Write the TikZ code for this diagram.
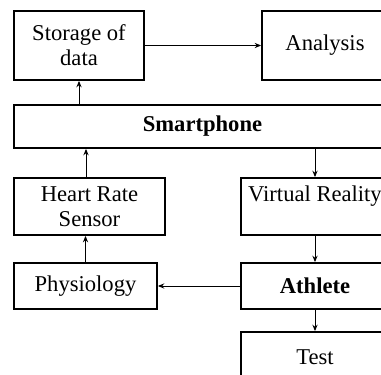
\documentclass[tikz,border=0pt]{standalone}
\usepackage{fontspec}
\setmainfont{Liberation Serif}
\usetikzlibrary{arrows.meta}
\begin{document}
\begin{tikzpicture}[x=0.5pt,y=-0.5pt,
  box/.style={draw,line width=0.9pt,inner sep=0pt,align=center,font=\fontsize{11.3}{12.5}\selectfont},
  arr/.style={line width=0.5pt,-{Stealth[length=3.2pt,width=2.6pt]}}]
\useasboundingbox (0,0) rectangle (381,375);
\clip (0,0) rectangle (381,375);
\node[box,minimum width=65pt,minimum height=34.5pt] (stor) at (79,45.5) {Storage of\\data};
\node[box,minimum width=63pt,minimum height=34.5pt] (anal) at (325,45.5) {Analysis};
\node[box,minimum width=188.5pt,minimum height=21.5pt] (smart) at (202.5,126.5) {\textbf{Smartphone}};
\node[box,minimum width=75.5pt,minimum height=28.5pt] (heart) at (89.5,206.5) {Heart Rate\\Sensor};
\node[box,minimum width=71.5pt,minimum height=23pt] (phys) at (85.5,286) {Physiology};
\node[box,minimum width=74pt,minimum height=28.5pt] (vr) at (315,206.5) {Virtual Reality\\\mbox{}};
\node[box,minimum width=74pt,minimum height=23pt] (ath) at (315,286) {\textbf{Athlete}};
\node[box,minimum width=74pt,minimum height=25pt] (test) at (315,357) {Test};
\draw[arr] (stor.east) -- (anal.west);
\draw[arr] (stor.south |- smart.north) -- (stor.south);
\draw[arr] ([xshift=-1.75pt]heart.north) -- ([xshift=-1.75pt]heart.north |- smart.south);
\draw[arr] (phys.north) -- (phys.north |- heart.south);
\draw[arr] (vr.north |- smart.south) -- (vr.north);
\draw[arr] (vr.south) -- (ath.north);
\draw[arr] (ath.south) -- (test.north);
\draw[arr] (ath.west) -- (phys.east);
\end{tikzpicture}
\end{document}
